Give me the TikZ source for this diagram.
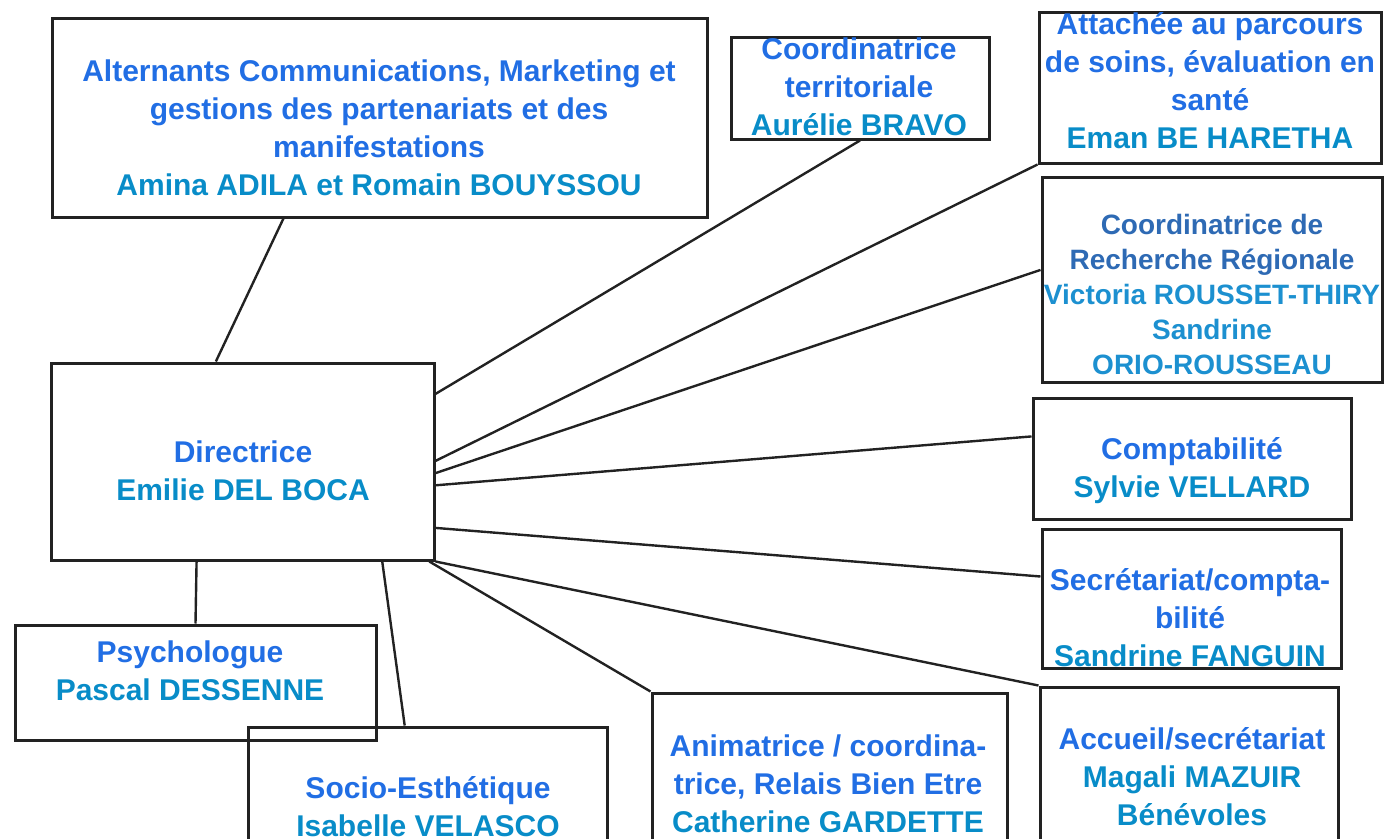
\documentclass[tikz,border=0pt]{standalone}
\usepackage{fontspec}
\setmainfont{Liberation Sans}
\usetikzlibrary{calc}
\definecolor{tblue}{RGB}{33,110,228}
\definecolor{nblue}{RGB}{8,140,200}
\definecolor{rtitle}{RGB}{46,106,180}
\definecolor{rname}{RGB}{28,144,208}
\definecolor{boxgray}{RGB}{34,34,34}
\newcommand\nmc[1]{{\color{nblue}#1}}
\newcommand\rnm[1]{{\color{rname}#1}}
\tikzset{
  box/.style={draw=boxgray, line width=3pt, inner sep=0pt},
  link/.style={draw=boxgray, line width=2.4pt},
  lbl/.style={align=center, inner sep=0pt, font=\bfseries\fontsize{30}{38}\selectfont, text=tblue},
  rlbl/.style={align=center, inner sep=0pt, font=\bfseries\fontsize{28}{35}\selectfont, text=rtitle}
}
\begin{document}
\begin{tikzpicture}[x=1pt,y=-1pt]
\useasboundingbox (0,0) rectangle (1388,838);
\clip (0,0) rectangle (1388,838);
% boxes
\node[box, minimum width=655pt, minimum height=199pt] (alt) at (379.5,117.5) {};
\node[box, minimum width=258pt, minimum height=102pt] (ct) at (860,88) {};
\node[box, minimum width=342pt, minimum height=151pt] (att) at (1210,87.5) {};
\node[box, minimum width=340pt, minimum height=205pt] (rech) at (1212,279.5) {};
\node[box, minimum width=318pt, minimum height=121pt] (comp) at (1192,458.5) {};
\node[box, minimum width=299pt, minimum height=139pt] (sec) at (1191.5,598.5) {};
\node[box, minimum width=298pt, minimum height=213pt] (acc) at (1189,793.5) {};
\node[box, minimum width=355pt, minimum height=207pt] (anim) at (829.5,796.5) {};
\node[box, minimum width=359pt, minimum height=173pt] (soc) at (427.5,813.5) {};
\node[box, minimum width=361pt, minimum height=115pt] (psy) at (195.5,682.5) {};
\node[box, minimum width=383pt, minimum height=197pt] (dir) at (242.5,461.5) {};
% connectors
\draw[link] ($(alt.south west)!0.354!(alt.south east)$) -- ($(dir.north west)!0.431!(dir.north east)$);
\draw[link] (ct.south) -- ($(dir.north east)!0.162!(dir.south east)$);
\draw[link] (att.south west) -- ($(dir.north east)!0.497!(dir.south east)$);
\draw[link] ($(rech.north west)!0.454!(rech.south west)$) -- ($(dir.north east)!0.558!(dir.south east)$);
\draw[link] ($(comp.north west)!0.322!(comp.south west)$) -- ($(dir.north east)!0.619!(dir.south east)$);
\draw[link] ($(sec.north west)!0.345!(sec.south west)$) -- ($(dir.north east)!0.832!(dir.south east)$);
\draw[link] (acc.north west) -- (dir.south east);
\draw[link] (anim.north west) -- ($(dir.south west)!0.984!(dir.south east)$);
\draw[link] ($(soc.north west)!0.437!(soc.north east)$) -- ($(dir.south west)!0.862!(dir.south east)$);
\draw[link] (psy.north) -- ($(dir.south west)!0.381!(dir.south east)$);
% texts
\node[lbl] (t-alt) at (379,128) {Alternants Communications, Marketing et\\gestions des partenariats et des\\manifestations\\\nmc{Amina ADILA et Romain BOUYSSOU}};
\node[lbl] (t-ct) at (859,87) {Coordinatrice\\territoriale\\\nmc{Aurélie BRAVO}};
\node[lbl] (t-att) at (1210,81) {Attachée au parcours\\de soins, évaluation en\\santé\\\nmc{Eman BE HARETHA}};
\node[rlbl] (t-rech) at (1212,294) {Coordinatrice de\\Recherche Régionale\\\rnm{Victoria ROUSSET-THIRY}\\\rnm{Sandrine}\\\rnm{ORIO-ROUSSEAU}};
\node[lbl] (t-comp) at (1192,471) {Comptabilité\\\nmc{Sylvie VELLARD}};
\node[lbl] (t-sec) at (1190,618) {Secrétariat/compta-\\bilité\\\nmc{Sandrine FANGUIN}};
\node[lbl] (t-acc) at (1192,777) {Accueil/secrétariat\\\nmc{Magali MAZUIR}\\\nmc{Bénévoles}};
\node[lbl] (t-anim) at (828,784) {Animatrice / coordina-\\trice, Relais Bien Etre\\\nmc{Catherine GARDETTE}};
\node[lbl] (t-soc) at (428,807) {Socio-Esthétique\\\nmc{Isabelle VELASCO}};
\node[lbl] (t-psy) at (190,671) {Psychologue\\\nmc{Pascal DESSENNE}};
\node[lbl] (t-dir) at (243,471) {Directrice\\\nmc{Emilie DEL BOCA}};
\end{tikzpicture}
\end{document}
